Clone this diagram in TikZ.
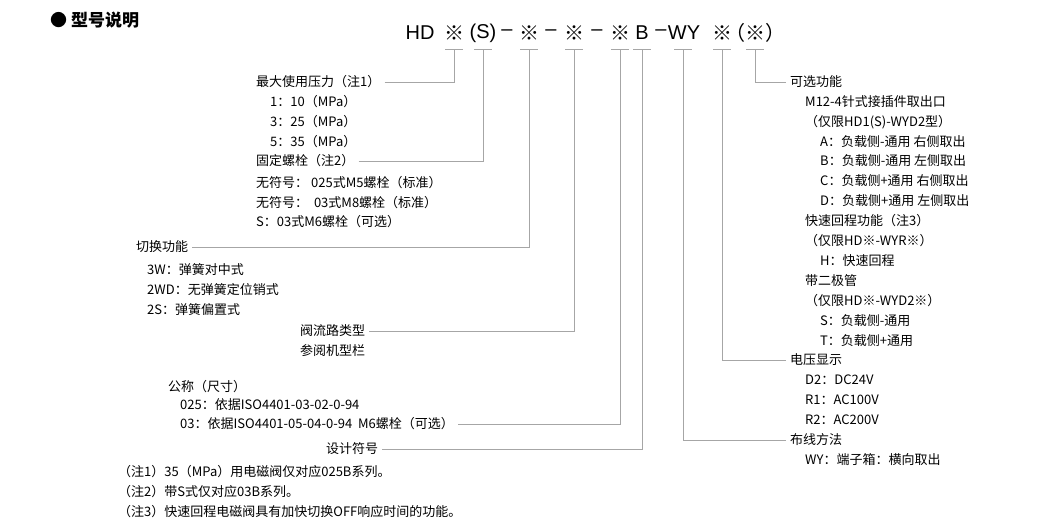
\documentclass[tikz,border=0pt]{standalone}
\usepackage{fontspec}
\setmainfont{Noto Sans CJK SC}
\newfontfamily\codefont{Liberation Sans}
\begin{document}
\begin{tikzpicture}[x=1pt,y=-1pt,
  t/.style={anchor=west,inner sep=0pt,font=\fontsize{13}{13}\selectfont},
  c/.style={inner sep=0pt,font=\fontsize{20}{20}\selectfont},
  ln/.style={draw=gray!70,line width=0.8pt}]
\useasboundingbox (0,0) rectangle (1060,528);
\node[anchor=west,inner sep=0pt,font=\fontsize{17}{17}\selectfont\bfseries] (title) at (50,20) {● 型号说明};
% code
\node[c] (hd) at (420,33) {\codefont HD};
\node[c] (m1) at (454,33) {※};
\node[c] (s) at (483,33) {\codefont (S)};
\node[c] (d1) at (507,33) {\codefont –};
\node[c] (m2) at (529,33) {※};
\node[c] (d2) at (551,33) {\codefont –};
\node[c] (m3) at (574,33) {※};
\node[c] (d3) at (597,33) {\codefont –};
\node[c] (m4) at (620,33) {※};
\node[c] (b) at (642,33) {\codefont B};
\node[c] (d4) at (661,33) {\codefont –};
\node[c] (wy) at (684,33) {\codefont WY};
\node[c] (m5) at (722,33) {※};
\node[c] (m6) at (755,33) {（※）};
\foreach \x in {454,483,529,574,620,642,683,722,755} \draw[ln] (\x-9,49) -- (\x+9,49);
% left
\node[t] (l1) at (256,82) {最大使用压力（注1）};
\node[t] at (270,102) {1：10（MPa）};
\node[t] at (270,122) {3：25（MPa）};
\node[t] at (270,142) {5：35（MPa）};
\node[t] (l2) at (256,161) {固定螺栓（注2）};
\node[t] at (256,183) {无符号： 025式M5螺栓（标准）};
\node[t] at (256,203) {无符号：\ \ 03式M8螺栓（标准）};
\node[t] at (256,222) {S：03式M6螺栓（可选）};
\node[t] (l3) at (136,247) {切换功能};
\node[t] at (147,270) {3W：弹簧对中式};
\node[t] at (147,290) {2WD：无弹簧定位销式};
\node[t] at (147,310) {2S：弹簧偏置式};
\node[t] (l4) at (300,331) {阀流路类型};
\node[t] at (300,351) {参阅机型栏};
\node[t] at (168,387) {公称（尺寸）};
\node[t] at (180,405) {025：依据ISO4401-03-02-0-94};
\node[t] (l5) at (180,424) {03：依据ISO4401-05-04-0-94\ \ M6螺栓（可选）};
\node[t] (l6) at (326,449) {设计符号};
\node[t] at (118,472) {（注1）35（MPa）用电磁阀仅对应025B系列。};
\node[t] at (118,492) {（注2）带S式仅对应03B系列。};
\node[t] at (118,512) {（注3）快速回程电磁阀具有加快切换OFF响应时间的功能。};
% right
\node[t] (r1) at (790,82) {可选功能};
\node[t] at (805,102) {M12-4针式接插件取出口};
\node[t] at (805,122) {（仅限HD1(S)-WYD2型）};
\node[t] at (820,142) {A：负载侧-通用 右侧取出};
\node[t] at (820,161) {B：负载侧-通用 左侧取出};
\node[t] at (820,181) {C：负载侧+通用 右侧取出};
\node[t] at (820,201) {D：负载侧+通用 左侧取出};
\node[t] at (805,221) {快速回程功能（注3）};
\node[t] at (805,241) {（仅限HD※-WYR※）};
\node[t] at (820,261) {H：快速回程};
\node[t] at (805,281) {带二极管};
\node[t] at (805,301) {（仅限HD※-WYD2※）};
\node[t] at (820,321) {S：负载侧-通用};
\node[t] at (820,341) {T：负载侧+通用};
\node[t] (r2) at (790,360) {电压显示};
\node[t] at (805,380) {D2：DC24V};
\node[t] at (805,400) {R1：AC100V};
\node[t] at (805,420) {R2：AC200V};
\node[t] (r3) at (790,440) {布线方法};
\node[t] at (805,460) {WY：端子箱：横向取出};
% connectors
\draw[ln] ([xshift=4pt]l1.east) -| (454,49);
\draw[ln] ([xshift=4pt]l2.east) -| (483,49);
\draw[ln] ([xshift=4pt]l3.east) -| (529,49);
\draw[ln] ([xshift=4pt]l4.east) -| (574,49);
\draw[ln] ([xshift=4pt]l5.east) -| (620,49);
\draw[ln] ([xshift=4pt]l6.east) -| (642,49);
\draw[ln] ([xshift=-4pt]r1.west) -| (755,49);
\draw[ln] ([xshift=-4pt]r2.west) -| (722,49);
\draw[ln] ([xshift=-4pt]r3.west) -| (683,49);
\end{tikzpicture}
\end{document}
